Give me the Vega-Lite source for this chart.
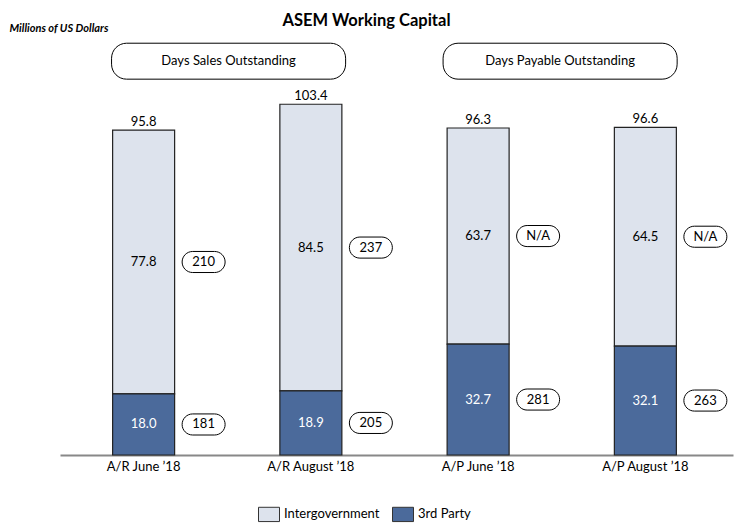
{
  "$schema": "https://vega.github.io/schema/vega-lite/v6.json",
  "width": 673,
  "height": 424,
  "autosize": "none",
  "padding": {"left": 60, "top": 31, "right": 1, "bottom": 68},
  "background": "white",
  "config": {
    "font": "Lato",
    "view": {"stroke": null},
    "text": {"font": "Lato", "fontSize": 13, "color": "black"}
  },
  "title": {
    "text": "ASEM Working Capital",
    "font": "Lato",
    "fontSize": 16.5,
    "fontWeight": "bold",
    "color": "black",
    "anchor": "middle",
    "frame": "group",
    "dx": -30,
    "offset": -7
  },
  "datasets": {
    "segments": [
      {"category": "A/R June ’18", "series": "Intergovernment", "value": 77.8, "days": "210"},
      {"category": "A/R June ’18", "series": "3rd Party", "value": 18.0, "days": "181"},
      {"category": "A/R August ’18", "series": "Intergovernment", "value": 84.5, "days": "237"},
      {"category": "A/R August ’18", "series": "3rd Party", "value": 18.9, "days": "205"},
      {"category": "A/P June ’18", "series": "Intergovernment", "value": 63.7, "days": "N/A"},
      {"category": "A/P June ’18", "series": "3rd Party", "value": 32.7, "days": "281"},
      {"category": "A/P August ’18", "series": "Intergovernment", "value": 64.5, "days": "N/A"},
      {"category": "A/P August ’18", "series": "3rd Party", "value": 32.1, "days": "263"}
    ],
    "totals": [
      {"category": "A/R June ’18", "total": 95.8},
      {"category": "A/R August ’18", "total": 103.4},
      {"category": "A/P June ’18", "total": 96.3},
      {"category": "A/P August ’18", "total": 96.6}
    ],
    "headers": [
      {"group": "Days Sales Outstanding"},
      {"group": "Days Payable Outstanding"}
    ]
  },
  "resolve": {"scale": {"x": "independent"}, "axis": {"x": "independent"}},
  "layer": [
    {
      "data": {"name": "headers"},
      "encoding": {
        "x": {
          "field": "group",
          "type": "nominal",
          "sort": ["Days Sales Outstanding", "Days Payable Outstanding"],
          "scale": {"paddingInner": 0.294, "paddingOuter": 0.162, "align": 0.48},
          "axis": null
        }
      },
      "layer": [
        {
          "mark": {"type": "rect", "cornerRadius": 15, "fill": "white", "stroke": "black", "strokeWidth": 1},
          "encoding": {
            "y": {"datum": 121.4, "type": "quantitative", "scale": {"domain": [0, 125], "nice": false, "zero": true}},
            "y2": {"datum": 110.8}
          }
        },
        {
          "mark": {"type": "text", "fontSize": 13, "baseline": "middle", "align": "center"},
          "encoding": {
            "y": {"datum": 116.1, "type": "quantitative"},
            "text": {"field": "group"}
          }
        }
      ]
    },
    {
      "encoding": {
        "x": {
          "field": "category",
          "type": "nominal",
          "sort": ["A/R June ’18", "A/R August ’18", "A/P June ’18", "A/P August ’18"],
          "scale": {"paddingInner": 0, "paddingOuter": 0.012, "align": 0},
          "axis": {
            "title": null,
            "ticks": false,
            "domainColor": "#888888",
            "domainWidth": 2,
            "labelFont": "Lato",
            "labelFontSize": 13,
            "labelColor": "black",
            "labelPadding": 5,
            "labelAngle": 0
          }
        }
      },
      "layer": [
        {
          "data": {"name": "segments"},
          "mark": {"type": "bar", "width": 62, "stroke": "#222222", "strokeWidth": 1.2},
          "encoding": {
            "y": {
              "field": "value",
              "type": "quantitative",
              "stack": "zero",
              "scale": {"domain": [0, 125], "nice": false, "zero": true},
              "axis": {
                "domain": false,
                "ticks": false,
                "labels": false,
                "grid": false,
                "title": "Millions of US Dollars",
                "titleAngle": 0,
                "titleX": -51,
                "titleY": -3,
                "titleAlign": "left",
                "titleBaseline": "middle",
                "titleFont": "Lato",
                "titleFontSize": 11,
                "titleFontStyle": "italic",
                "titleFontWeight": "bold",
                "titleColor": "black"
              }
            },
            "order": {"field": "series", "sort": "ascending"},
            "color": {
              "field": "series",
              "type": "nominal",
              "scale": {"domain": ["Intergovernment", "3rd Party"], "range": ["#dde3ed", "#4b6a9b"]},
              "legend": {
                "title": null,
                "orient": "none",
                "direction": "horizontal",
                "legendX": 198,
                "legendY": 472,
                "symbolType": "M-1,-0.68H1V0.68H-1Z",
                "symbolSize": 441,
                "symbolStrokeColor": "#333333",
                "symbolStrokeWidth": 1,
                "symbolOpacity": 1,
                "labelFont": "Lato",
                "labelFontSize": 13,
                "labelColor": "black",
                "labelOffset": 4,
                "columnPadding": 10
              }
            }
          }
        },
        {
          "data": {"name": "segments"},
          "mark": {"type": "text", "fontSize": 13, "baseline": "middle", "align": "center"},
          "encoding": {
            "y": {"field": "value", "type": "quantitative", "stack": "zero", "bandPosition": 0.5},
            "order": {"field": "series", "sort": "ascending"},
            "text": {"field": "value", "type": "quantitative", "format": ".1f"},
            "color": {"condition": {"test": "datum.series === '3rd Party'", "value": "white"}, "value": "black"}
          }
        },
        {
          "data": {"name": "segments"},
          "mark": {
            "type": "point",
            "shape": "M-0.51,-0.49H0.51A0.49,0.49 0 0 1 0.51,0.49H-0.51A0.49,0.49 0 0 1 -0.51,-0.49Z",
            "size": 1849,
            "filled": true,
            "fill": "white",
            "stroke": "black",
            "strokeWidth": 1,
            "opacity": 1,
            "xOffset": 60
          },
          "encoding": {
            "y": {"field": "value", "type": "quantitative", "stack": "zero", "bandPosition": 0.5},
            "order": {"field": "series", "sort": "ascending"}
          }
        },
        {
          "data": {"name": "segments"},
          "mark": {"type": "text", "fontSize": 13, "baseline": "middle", "align": "center", "xOffset": 60},
          "encoding": {
            "y": {"field": "value", "type": "quantitative", "stack": "zero", "bandPosition": 0.5},
            "order": {"field": "series", "sort": "ascending"},
            "text": {"field": "days"}
          }
        },
        {
          "data": {"name": "totals"},
          "mark": {"type": "text", "fontSize": 13, "baseline": "alphabetic", "align": "center", "dy": -4},
          "encoding": {
            "y": {"field": "total", "type": "quantitative"},
            "text": {"field": "total", "type": "quantitative", "format": ".1f"}
          }
        }
      ]
    }
  ]
}
